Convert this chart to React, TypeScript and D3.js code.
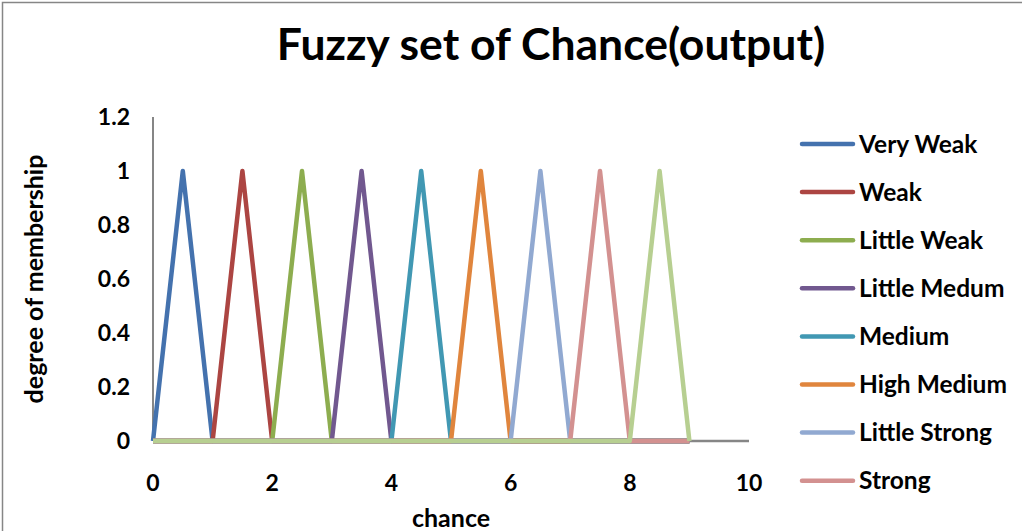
import React from 'react';
import * as d3 from 'd3';

const chanceValues = [0, 0.5, 1, 1.5, 2, 2.5, 3, 3.5, 4, 4.5, 5, 5.5, 6, 6.5, 7, 7.5, 8, 8.5, 9];

const seriesNames = [
  'Very Weak', 'Weak', 'Little Weak', 'Little Medum', 'Medium',
  'High Medium', 'Little Strong', 'Strong', 'Very Strong',
];

const seriesColors = [
  '#4472AE', '#AC4542', '#8DAD4F', '#71588F', '#4198B3',
  '#E0853D', '#91A9D1', '#D39190', '#B7CF91',
];

const veryWeak = [0, 1, 0, 0, 0, 0, 0, 0, 0, 0, 0, 0, 0, 0, 0, 0, 0, 0, 0];
const weak = [0, 0, 0, 1, 0, 0, 0, 0, 0, 0, 0, 0, 0, 0, 0, 0, 0, 0, 0];
const littleWeak = [0, 0, 0, 0, 0, 1, 0, 0, 0, 0, 0, 0, 0, 0, 0, 0, 0, 0, 0];
const littleMedum = [0, 0, 0, 0, 0, 0, 0, 1, 0, 0, 0, 0, 0, 0, 0, 0, 0, 0, 0];
const medium = [0, 0, 0, 0, 0, 0, 0, 0, 0, 1, 0, 0, 0, 0, 0, 0, 0, 0, 0];
const highMedium = [0, 0, 0, 0, 0, 0, 0, 0, 0, 0, 0, 1, 0, 0, 0, 0, 0, 0, 0];
const littleStrong = [0, 0, 0, 0, 0, 0, 0, 0, 0, 0, 0, 0, 0, 1, 0, 0, 0, 0, 0];
const strong = [0, 0, 0, 0, 0, 0, 0, 0, 0, 0, 0, 0, 0, 0, 0, 1, 0, 0, 0];
const veryStrong = [0, 0, 0, 0, 0, 0, 0, 0, 0, 0, 0, 0, 0, 0, 0, 0, 0, 1, 0];

const seriesValues = [
  veryWeak, weak, littleWeak, littleMedum, medium,
  highMedium, littleStrong, strong, veryStrong,
];

const xTicks = [0, 2, 4, 6, 8, 10];
const yTicks = [0, 0.2, 0.4, 0.6, 0.8, 1, 1.2];

// only the first 8 legend entries fit inside the picture
const legendCount = 8;

const W = 1022;
const H = 531;
const FONT = 'Lato, "Open Sans", sans-serif';

export default function App() {
  const x = d3.scaleLinear().domain([0, 10]).range([153, 749]);
  const y = d3.scaleLinear().domain([0, 1.2]).range([441, 117]);

  const line = d3.line<[number, number]>()
    .x((d) => x(d[0]))
    .y((d) => y(d[1]));

  return (
    <svg
      width={W}
      height={H}
      style={{ position: 'absolute', left: 0, top: 0, background: '#fff' }}
    >
      <rect x={2.5} y={2.5} width={W + 20} height={H + 20} fill="#fff" stroke="#868686" strokeWidth={1.5} />

      <text x={551} y={44} dy="0.35em" textAnchor="middle" fontFamily={FONT} fontWeight="bold" fontSize={44.5} fill="#000">
        Fuzzy set of Chance(output)
      </text>

      {/* axes */}
      <line x1={x(0)} x2={x(0)} y1={y(1.2)} y2={y(0)} stroke="#868686" strokeWidth={2} />
      <line x1={x(0)} x2={x(10)} y1={y(0)} y2={y(0)} stroke="#868686" strokeWidth={2.5} />

      {yTicks.map((t) => (
        <text key={t} x={130} y={y(t)} dy="0.35em" textAnchor="end" fontFamily={FONT} fontWeight="bold" fontSize={23} fill="#000">
          {t}
        </text>
      ))}
      {xTicks.map((t) => (
        <text key={t} x={x(t)} y={483} dy="0.35em" textAnchor="middle" fontFamily={FONT} fontWeight="bold" fontSize={23} fill="#000">
          {t}
        </text>
      ))}

      <text x={451} y={518} dy="0.35em" textAnchor="middle" fontFamily={FONT} fontWeight="bold" fontSize={25} fill="#000">
        chance
      </text>
      <text
        transform={`translate(34,${279}) rotate(-90)`}
        dy="0.35em"
        textAnchor="middle"
        fontFamily={FONT}
        fontWeight="bold"
        fontSize={25}
        fill="#000"
      >
        degree of membership
      </text>

      {/* series */}
      {seriesValues.map((vals, i) => (
        <path
          key={seriesNames[i]}
          d={line(vals.map((v, j) => [chanceValues[j], v] as [number, number])) || ''}
          fill="none"
          stroke={seriesColors[i]}
          strokeWidth={4.5}
          strokeLinejoin="round"
        />
      ))}

      {/* legend */}
      {seriesNames.slice(0, legendCount).map((name, i) => {
        const ly = 144 + i * 48.1;
        return (
          <g key={name}>
            <line x1={802} x2={853} y1={ly} y2={ly} stroke={seriesColors[i]} strokeWidth={4.5} strokeLinecap="round" />
            <text x={859} y={ly} dy="0.35em" fontFamily={FONT} fontWeight="bold" fontSize={24.5} fill="#000">
              {name}
            </text>
          </g>
        );
      })}
    </svg>
  );
}
